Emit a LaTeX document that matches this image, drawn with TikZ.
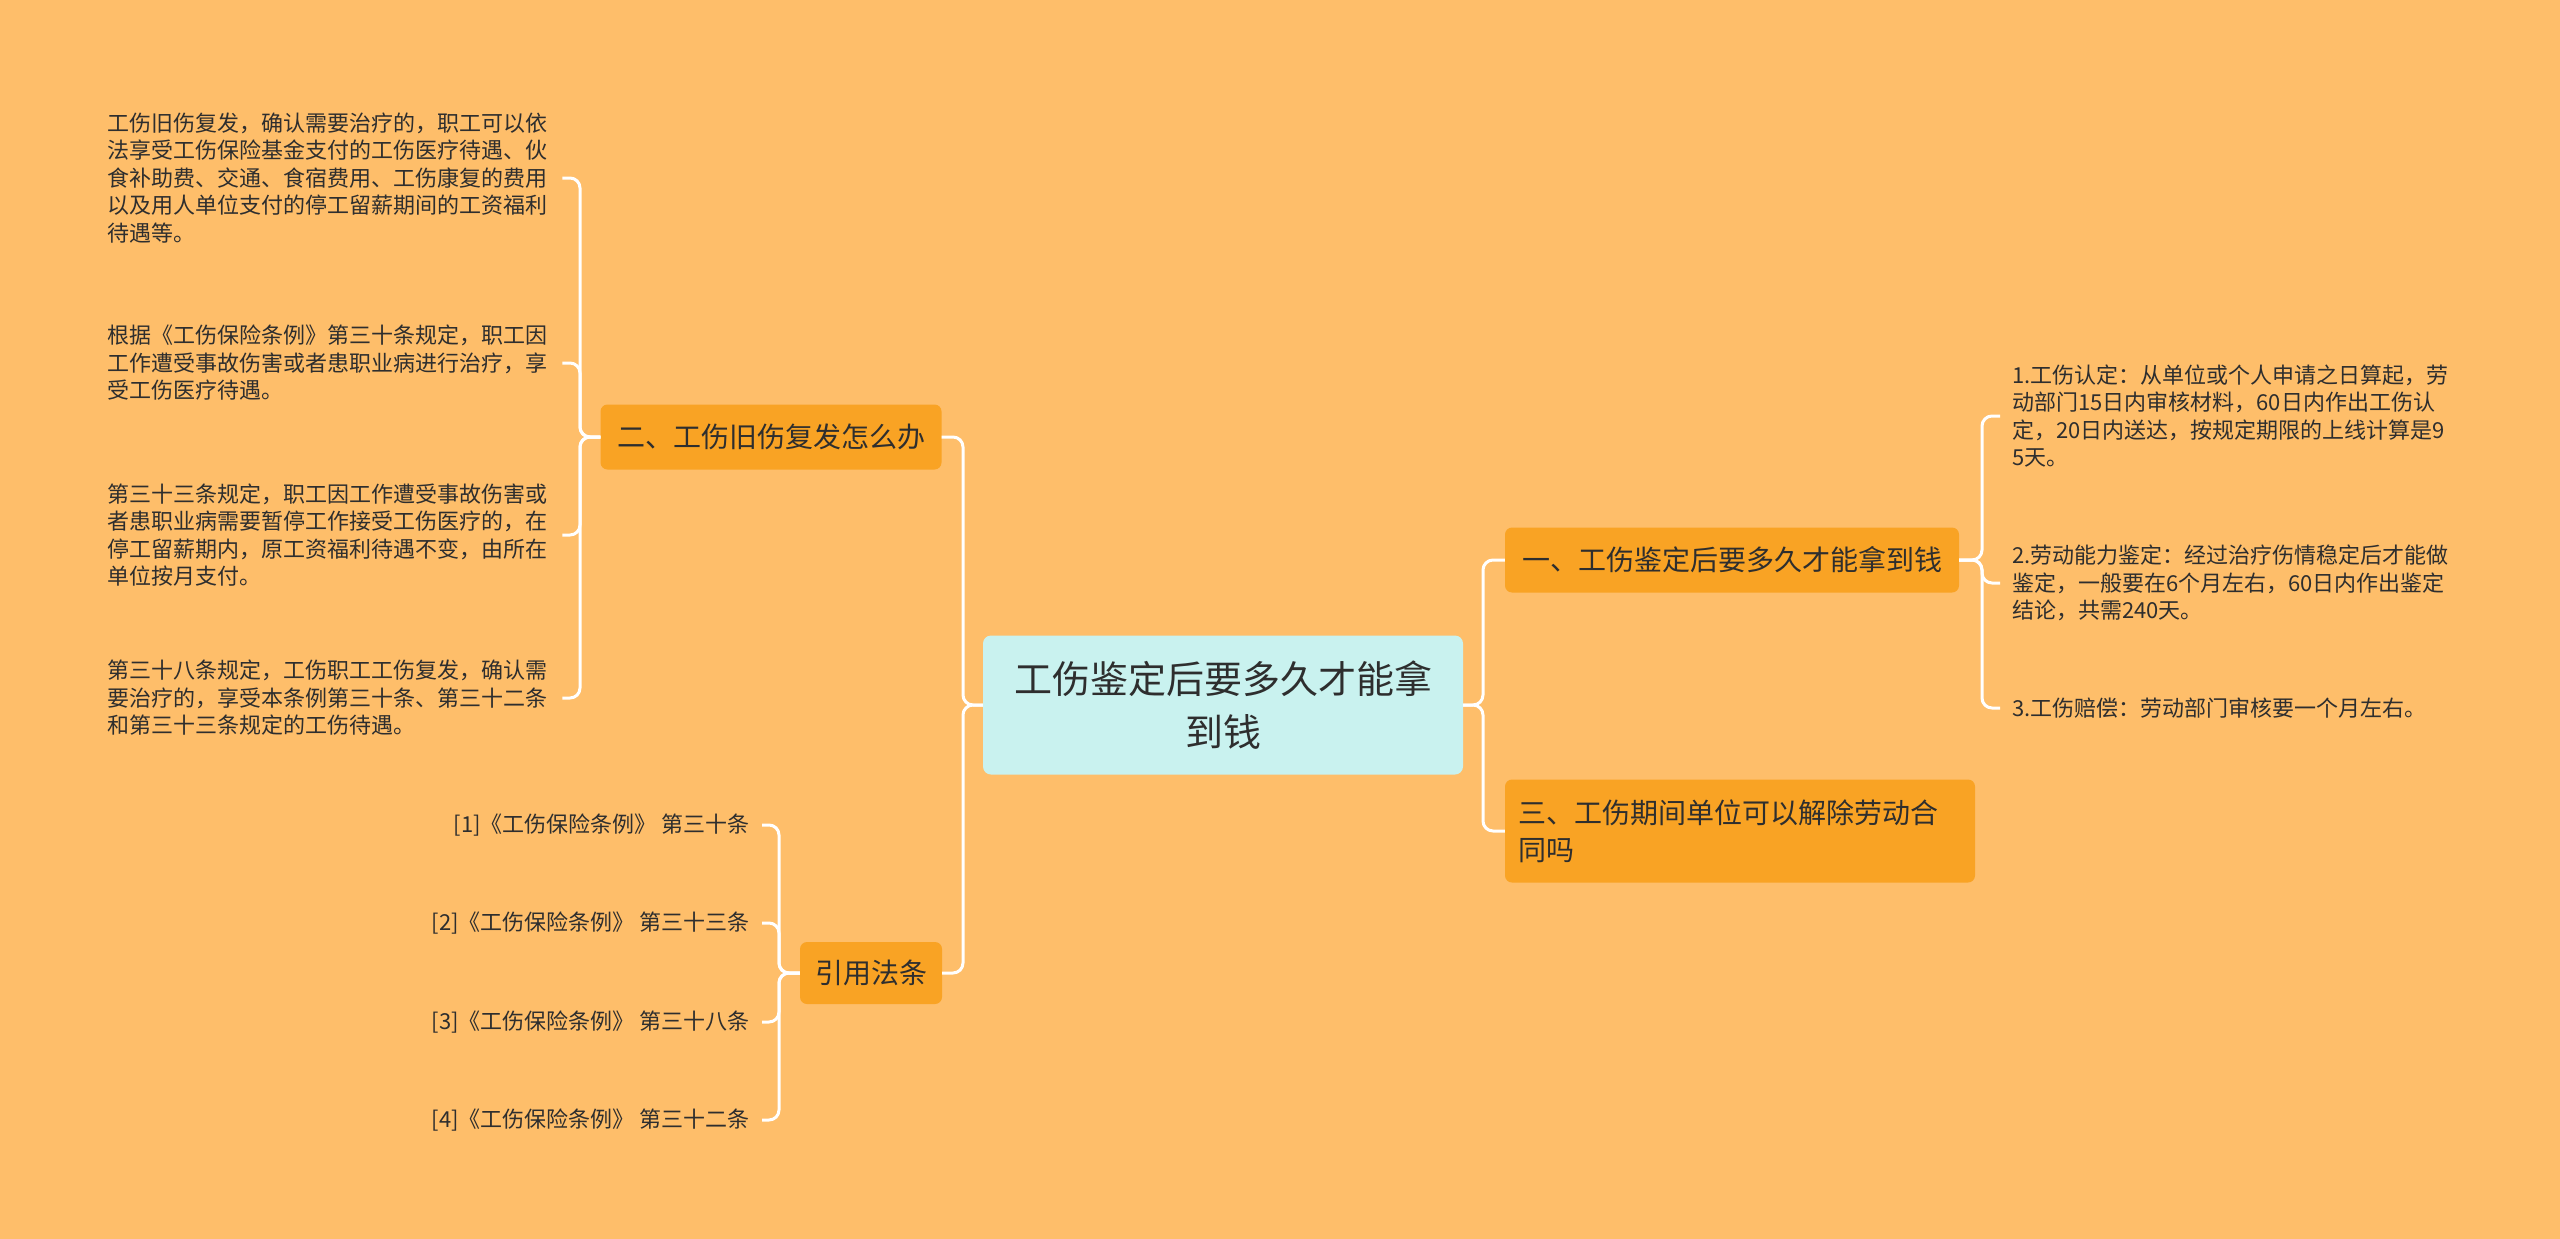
\documentclass[tikz,border=0pt]{standalone}
\usepackage{fontspec}
\setmainfont{Noto Sans CJK SC}
\usetikzlibrary{positioning,calc}
\definecolor{paper}{HTML}{FEBE6A}
\definecolor{amber}{HTML}{F9A324}
\definecolor{ice}{HTML}{C9F2EF}
\definecolor{ink}{HTML}{2E2E2E}
\tikzset{
  mainbox/.style={rectangle,rounded corners=8pt,fill=ice,text=ink,align=center,minimum width=480pt,minimum height=139pt,font=\fontsize{38}{53}\selectfont},
  branch/.style={rectangle,rounded corners=7pt,fill=amber,text=ink,minimum height=65pt,inner xsep=13pt,align=center,font=\fontsize{28}{37}\selectfont},
  leafnote/.style={text width=442pt,align=left,inner xsep=13pt,inner ysep=0pt,text=ink,font=\fontsize{22}{27.5}\selectfont},
  refnote/.style={inner xsep=12pt,inner ysep=0pt,text=ink,font=\fontsize{22}{27}\selectfont},
  link/.style={draw=white,line width=3pt,rounded corners=10pt}
}

\begin{document}
\begin{tikzpicture}[x=1pt,y=-1pt]
    \useasboundingbox (0,0) rectangle (2560,1239);
    \fill[paper] (0,0) rectangle (2560,1239);

    \node[mainbox] (root) at (1223,705) {工伤鉴定后要多久才能拿\\到钱};
    \node[branch,minimum width=341pt] (rehurt) at (771,437) {二、工伤旧伤复发怎么办};
    \node[branch,minimum width=142pt,minimum height=62pt] (laws) at (871,973) {引用法条};
    \node[branch,minimum width=454pt] (payday) at (1732,560) {一、工伤鉴定后要多久才能拿到钱};
    \node[branch,minimum height=103pt,text width=444pt,align=left] (dismiss) at (1740,831) {三、工伤期间单位可以解除劳动合\\同吗};

    \node[leafnote,anchor=west] (relapse) at (94,178) {工伤旧伤复发，确认需要治疗的，职工可以依\\法享受工伤保险基金支付的工伤医疗待遇、伙\\食补助费、交通、食宿费用、工伤康复的费用\\以及用人单位支付的停工留薪期间的工资福利\\待遇等。};
    \node[leafnote,anchor=west] (art30) at (94,363) {根据《工伤保险条例》第三十条规定，职工因\\工作遭受事故伤害或者患职业病进行治疗，享\\受工伤医疗待遇。};
    \node[leafnote,anchor=west] (art33) at (94,535) {第三十三条规定，职工因工作遭受事故伤害或\\者患职业病需要暂停工作接受工伤医疗的，在\\停工留薪期内，原工资福利待遇不变，由所在\\单位按月支付。};
    \node[leafnote,anchor=west] (art38) at (94,698) {第三十八条规定，工伤职工工伤复发，确认需\\要治疗的，享受本条例第三十条、第三十二条\\和第三十三条规定的工伤待遇。};

    \node[refnote,anchor=east] (ref1) at (762,825) {[1]《工伤保险条例》 第三十条};
    \node[refnote,anchor=east] (ref2) at (762,923) {[2]《工伤保险条例》 第三十三条};
    \node[refnote,anchor=east] (ref3) at (762,1022) {[3]《工伤保险条例》 第三十八条};
    \node[refnote,anchor=east] (ref4) at (762,1120) {[4]《工伤保险条例》 第三十二条};

    \node[leafnote,text width=450pt,inner xsep=12pt,anchor=west] (stage1) at (2000,416) {1.工伤认定：从单位或个人申请之日算起，劳\\动部门15日内审核材料，60日内作出工伤认\\定，20日内送达，按规定期限的上线计算是9\\5天。};
    \node[leafnote,text width=450pt,inner xsep=12pt,anchor=west] (stage2) at (2000,583) {2.劳动能力鉴定：经过治疗伤情稳定后才能做\\鉴定，一般要在6个月左右，60日内作出鉴定\\结论，共需240天。};
    \node[leafnote,text width=450pt,inner xsep=12pt,anchor=west] (stage3) at (2000,708) {3.工伤赔偿：劳动部门审核要一个月左右。};

    \coordinate (forkl) at (963,705);
    \coordinate (forkr) at (1483,705);
    \coordinate (forkq) at (580,437);
    \coordinate (forkc) at (779,973);
    \coordinate (forkp) at (1982,560);

    \draw[link] (root.west) -- (forkl) |- (rehurt.east);
    \draw[link] (root.west) -- (forkl) |- (laws.east);
    \draw[link] (root.east) -- (forkr) |- (payday.west);
    \draw[link] (root.east) -- (forkr) |- (dismiss.west);

    \draw[link] (rehurt.west) -- (forkq) |- (relapse.east);
    \draw[link] (rehurt.west) -- (forkq) |- (art30.east);
    \draw[link] (rehurt.west) -- (forkq) |- (art33.east);
    \draw[link] (rehurt.west) -- (forkq) |- (art38.east);

    \draw[link] (laws.west) -- (forkc) |- (ref1.east);
    \draw[link] (laws.west) -- (forkc) |- (ref2.east);
    \draw[link] (laws.west) -- (forkc) |- (ref3.east);
    \draw[link] (laws.west) -- (forkc) |- (ref4.east);

    \draw[link] (payday.east) -- (forkp) |- (stage1.west);
    \draw[link] (payday.east) -- (forkp) |- (stage2.west);
    \draw[link] (payday.east) -- (forkp) |- (stage3.west);
\end{tikzpicture}
\end{document}
